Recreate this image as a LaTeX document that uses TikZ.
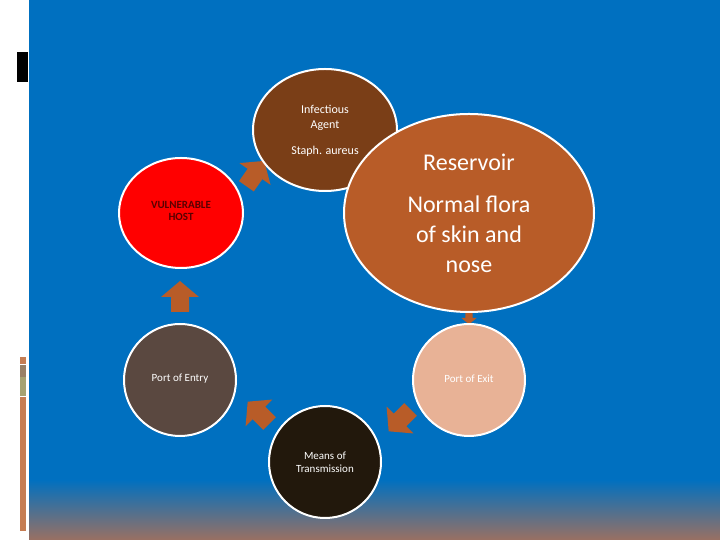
\documentclass[tikz,border=0pt]{standalone}
\usepackage{fontspec}
\setmainfont{Carlito}
\usetikzlibrary{shapes.geometric}
\begin{document}
\begin{tikzpicture}[x=1pt,y=1pt,
  circ/.style={draw=white,line width=2pt},
  lbl/.style={text=white,align=center,font=\fontsize{11}{13}\selectfont},
  arr/.style={fill=arrowc}]
\definecolor{bluebg}{HTML}{0070C0}
\definecolor{arrowc}{HTML}{B85C28}
\useasboundingbox (0,0) rectangle (720,540);
\fill[white] (0,0) rectangle (720,540);
\fill[bluebg] (29,60) rectangle (720,540);
\shade[bottom color={rgb,255:red,154;green,112;blue,98},top color=bluebg] (29,0) rectangle (720,60.5);
\fill[black] (17,458) rectangle (28,488);
\fill[arrowc!80!white] (20,176) rectangle (26,183);
\fill[gray!60!brown] (20,163) rectangle (26,175);
\fill[olive!40!gray!80!white] (20,144) rectangle (26,163);
\fill[arrowc!80!white] (20,9) rectangle (26,143);
% arrows
\newcommand{\blockarrow}[4]{\fill[arrowc,shift={(#1,#2)},rotate=#3,scale=#4] (-15,-9)--(0,-9)--(0,-19)--(16,0)--(0,19)--(0,9)--(-15,9)--cycle;}
\blockarrow{180}{243}{90}{1}
\blockarrow{255}{366}{55}{1}
\blockarrow{259}{127}{135}{1}
\blockarrow{400}{120}{225}{1}
\node[circ,fill={rgb,255:red,122;green,62;blue,23},ellipse,minimum width=144,minimum height=122,inner sep=0] (agent) at (325,410) {};
\blockarrow{469}{222}{-90}{0.4}
\node[lbl,font=\fontsize{12}{15}\selectfont] (agt) at (325,422) {Infectious\\Agent};
\node[lbl,font=\fontsize{12}{15}\selectfont] (sta) at (325,389) {Staph. aureus};
\node[circ,fill={rgb,255:red,184;green,92;blue,40},ellipse,minimum width=250,minimum height=198,inner sep=0] (res) at (469,327) {};
\node[lbl,font=\fontsize{24}{30}\selectfont] (rest) at (469,378) {Reservoir};
\node[lbl,font=\fontsize{24}{30}\selectfont] (nf) at (469,306) {Normal flora\\of skin and\\nose};
\node[circ,fill=red,ellipse,minimum width=124,minimum height=110,inner sep=0] (host) at (181,327) {};
\node[align=center,text={rgb,255:red,90;green,0;blue,0},font=\bfseries\fontsize{11}{12}\selectfont] at (181,329) {VULNERABLE\\HOST};
\node[circ,fill={rgb,255:red,90;green,72;blue,64},circle,minimum size=112,inner sep=0] (entry) at (180,160) {};
\node[lbl] at (180,161) {Port of Entry};
\node[circ,fill={rgb,255:red,232;green,178;blue,150},circle,minimum size=112,inner sep=0] (exit) at (469,160) {};
\node[lbl] at (469,161) {Port of Exit};
\node[circ,fill={rgb,255:red,34;green,24;blue,12},circle,minimum size=112,inner sep=0] (means) at (325,78) {};
\node[lbl] at (325,78) {Means of\\Transmission};
\end{tikzpicture}
\end{document}
